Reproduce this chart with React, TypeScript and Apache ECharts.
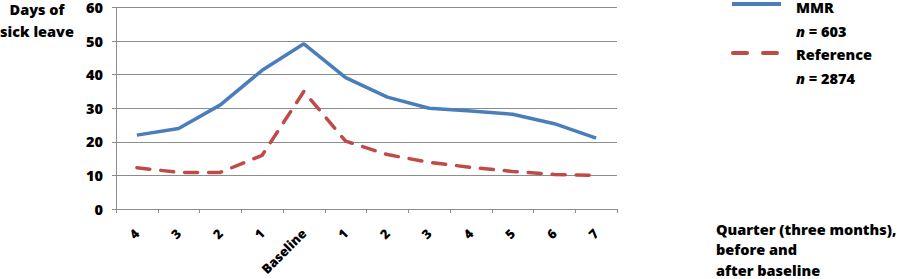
import React, { useEffect, useRef } from "react";
import * as echarts from "echarts";

const categories = ["4", "3", "2", "1", "Baseline", "1", "2", "3", "4", "5", "6", "7"];
const mmrValues = [22.0, 24.0, 31.0, 41.3, 49.2, 39.1, 33.3, 30.0, 29.2, 28.2, 25.4, 21.1];
const referenceValues = [12.3, 10.9, 10.9, 16.0, 35.0, 20.2, 16.2, 13.9, 12.4, 11.2, 10.3, 10.0];
const yTicks = [0, 10, 20, 30, 40, 50, 60];

const FONT = "Open Sans";
const BLUE = "#4a7ebb";
const RED = "#be4b48";

export default function App() {
  const ref = useRef<HTMLDivElement>(null);
  useEffect(() => {
    if (!ref.current) return;
    const chart = echarts.init(ref.current, null, { renderer: "svg" });
    const textBase = { fontFamily: FONT, fontWeight: 800 as const, fontSize: 14.5 };
    const rich = { i: { fontStyle: "italic", fontWeight: 800, fontFamily: FONT, fontSize: 14.5, fill: "#000" } };
    chart.setOption({
      animation: false,
      backgroundColor: "#fff",
      grid: { left: 116, right: 283, top: 5, bottom: 70, containLabel: false },
      xAxis: {
        type: "category",
        data: categories,
        boundaryGap: true,
        axisLine: { show: true, lineStyle: { color: "#8c8c8c", width: 1 } },
        axisTick: { show: true, alignWithLabel: false, length: 4, lineStyle: { color: "#8c8c8c" } },
        axisLabel: { ...textBase, color: "#000", fontSize: 13, rotate: 45, margin: 22, interval: 0 },
        splitLine: { show: false },
      },
      yAxis: {
        type: "value",
        min: yTicks[0],
        max: yTicks[yTicks.length - 1],
        interval: 10,
        axisLine: { show: true, lineStyle: { color: "#8c8c8c", width: 1 } },
        axisTick: { show: true, length: 4, lineStyle: { color: "#8c8c8c" } },
        axisLabel: { ...textBase, color: "#000", fontSize: 14.5, margin: 13 },
        splitLine: { show: true, lineStyle: { color: "#8c8c8c", width: 1 } },
      },
      series: [
        {
          name: "MMR",
          type: "line",
          data: mmrValues,
          symbol: "none",
          lineStyle: { color: BLUE, width: 3.5 },
          itemStyle: { color: BLUE },
        },
        {
          name: "Reference",
          type: "line",
          data: referenceValues,
          symbol: "none",
          lineStyle: { color: RED, width: 3.5, type: [13, 11], cap: "round" },
          itemStyle: { color: RED },
        },
      ],
      graphic: [
        {
          type: "text",
          x: 37,
          y: -2,
          style: { text: "Days of\nsick leave", ...textBase, fill: "#000", align: "center", lineHeight: 22.5 },
        },
        {
          type: "line",
          shape: { x1: 732, y1: 4, x2: 781, y2: 4 },
          style: { stroke: BLUE, lineWidth: 4 },
        },
        {
          type: "text",
          x: 796,
          y: -5,
          style: { text: "MMR\n{i|n} = 603", ...textBase, fill: "#000", lineHeight: 24, rich },
        },
        {
          type: "line",
          shape: { x1: 733, y1: 53, x2: 781, y2: 53 },
          style: { stroke: RED, lineWidth: 4, lineDash: [14, 16], lineCap: "round" },
        },
        {
          type: "text",
          x: 796,
          y: 42,
          style: { text: "Reference\n{i|n} = 2874", ...textBase, fill: "#000", lineHeight: 24, rich },
        },
        {
          type: "text",
          x: 716,
          y: 219,
          style: {
            text: "Quarter (three months),\nbefore and\nafter baseline",
            ...textBase,
            fill: "#000",
            lineHeight: 20.5,
          },
        },
      ],
    });
    return () => chart.dispose();
  }, []);
  return <div ref={ref} style={{ width: 900, height: 279, position: "absolute", left: 0, top: 0 }} />;
}
